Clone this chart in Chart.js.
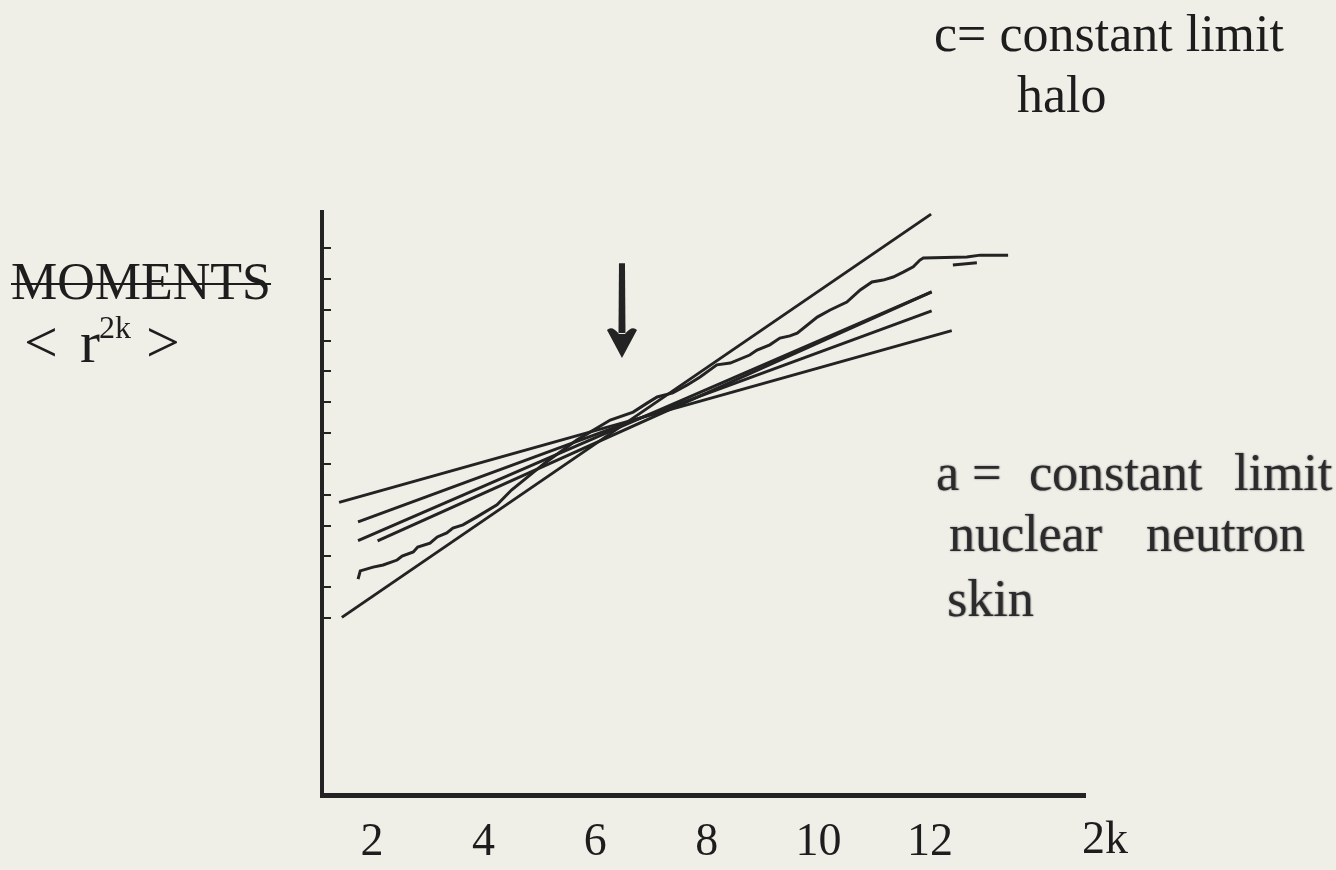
<!DOCTYPE html>
<html>
<head>
<meta charset="utf-8">
<script src="https://cdn.jsdelivr.net/npm/chart.js"></script>
<style>
  html, body { margin: 0; padding: 0; background: #efeee7; }
  #wrap { position: relative; width: 1336px; height: 870px; overflow: hidden; }
  #myChart { position: absolute; left: 0; top: 0; }
  .note {
    position: absolute;
    font-family: "Liberation Serif", "Times New Roman", serif;
    color: #1d1d1d;
    line-height: 1;
    white-space: nowrap;
  }
  .grey { color: #2b2b2b; text-shadow: 0 0 2px #8a8a8a, 1px 0 1px #9a9a9a; }
</style>
</head>
<body>
<div id="wrap">
  <canvas id="myChart" width="1336" height="870"></canvas>

  <div class="note" style="left:11px; top:256px; font-size:52px; text-decoration:line-through; text-decoration-thickness:2px;">MOMENTS</div>
  <div class="note" style="left:24px; top:312px; font-size:60px;">&lt;</div>
  <div class="note" style="left:80px; top:312px; font-size:60px;">r</div>
  <div class="note" style="left:99px; top:311px; font-size:32px;">2k</div>
  <div class="note" style="left:146px; top:312px; font-size:60px;">&gt;</div>

  <div class="note" style="left:934px; top:8px; font-size:52px;">c= constant limit</div>
  <div class="note" style="left:1017px; top:69px; font-size:52px;">halo</div>

  <div class="note grey" style="left:936px; top:447px; font-size:52px;">a =</div>
  <div class="note grey" style="left:1029px; top:447px; font-size:52px;">constant</div>
  <div class="note grey" style="left:1234px; top:447px; font-size:52px;">limit</div>
  <div class="note grey" style="left:949px; top:508px; font-size:52px;">nuclear</div>
  <div class="note grey" style="left:1146px; top:508px; font-size:52px;">neutron</div>
  <div class="note grey" style="left:947px; top:573px; font-size:52px;">skin</div>

  <div class="note" style="left:1082px; top:815px; font-size:46px;">2k</div>
</div>

<script>
console.log("Page running");

// =======================
// DATA
// =======================

// x axis: 2k, y axis: <r^2k> (unlabelled tick marks)
const xTicks = [2, 4, 6, 8, 10, 12];
const yTicks = [1, 2, 3, 4, 5, 6, 7, 8, 9, 10, 11, 12, 13];

// straight-line fits (end points)
const fitAx = [1.41, 12.39];
const fitAy = [4.75, 10.32];
const fitBx = [1.75, 12.03];
const fitBy = [4.12, 10.96];
const fitCx = [1.75, 12.03];
const fitCy = [3.51, 11.58];
const fitDx = [2.10, 12.03];
const fitDy = [3.50, 11.58];
const fitFx = [1.46, 12.02];
const fitFy = [1.02, 14.10];

// jagged curve that levels off (halo)
const haloX = [1.75, 1.79, 2.02, 2.20, 2.45, 2.54, 2.74, 2.82, 3.04, 3.17, 3.34, 3.45,
  3.63, 3.88, 4.24, 4.50, 5.10, 5.67, 6.27, 6.68, 6.93, 7.11, 7.39, 7.65, 7.88, 8.18,
  8.42, 8.77, 8.90, 9.13, 9.31, 9.49, 9.62, 9.98, 10.21, 10.51, 10.75, 10.96, 11.16,
  11.34, 11.52, 11.70, 11.82, 11.88, 12.66, 12.90, 13.40];
const haloY = [2.26, 2.53, 2.65, 2.72, 2.88, 3.01, 3.14, 3.30, 3.43, 3.63, 3.76, 3.92,
  4.02, 4.28, 4.67, 5.15, 6.03, 6.77, 7.42, 7.68, 7.97, 8.17, 8.30, 8.56, 8.82, 9.21,
  9.27, 9.53, 9.69, 9.86, 10.08, 10.15, 10.24, 10.76, 10.99, 11.25, 11.64, 11.90, 11.96,
  12.06, 12.22, 12.39, 12.61, 12.68, 12.71, 12.77, 12.77];

// little stray stroke under the flat end
const tailX = [12.41, 12.84];
const tailY = [12.45, 12.52];

// arrow marking the crossing point
const arrowX = 6.48;
const arrowTop = 12.51;
const arrowBase = 10.34;
const arrowTip = 9.43;


// =======================
// HELPERS
// =======================

const INK = "#232323";

function pts(xs, ys) {
  return xs.map((x, i) => ({ x: x, y: ys[i] }));
}

function series(label, xs, ys) {
  return {
    label: label,
    data: pts(xs, ys),
    borderColor: INK,
    borderWidth: 3,
    pointRadius: 0,
    tension: 0,
    fill: false
  };
}

// small tick marks on the inside of the y axis
const innerTicks = {
  id: "innerTicks",
  afterDraw(chart) {
    const { ctx, scales: { x, y } } = chart;
    ctx.save();
    ctx.strokeStyle = INK;
    ctx.lineWidth = 2;
    yTicks.forEach(v => {
      const py = Math.round(y.getPixelForValue(v));
      ctx.beginPath();
      ctx.moveTo(x.left, py);
      ctx.lineTo(x.left + 9, py);
      ctx.stroke();
    });
    ctx.restore();
  }
};

// the down arrow
const arrow = {
  id: "arrow",
  afterDatasetsDraw(chart) {
    const { ctx, scales: { x, y } } = chart;
    const ax = x.getPixelForValue(arrowX);
    const top = y.getPixelForValue(arrowTop);
    const base = y.getPixelForValue(arrowBase);
    const tip = y.getPixelForValue(arrowTip);
    ctx.save();
    ctx.fillStyle = INK;
    ctx.beginPath();
    ctx.moveTo(ax - 3, top);
    ctx.lineTo(ax + 3, top);
    ctx.lineTo(ax + 3.5, base + 3);
    ctx.lineTo(ax - 3.5, base + 3);
    ctx.closePath();
    ctx.fill();
    ctx.beginPath();
    ctx.moveTo(ax - 15, base);
    ctx.quadraticCurveTo(ax - 10, base - 5, ax - 3, base + 4);
    ctx.lineTo(ax + 3, base + 4);
    ctx.quadraticCurveTo(ax + 10, base - 5, ax + 15, base);
    ctx.lineTo(ax, tip);
    ctx.closePath();
    ctx.fill();
    ctx.restore();
  }
};


// =======================
// CHART
// =======================

const ctx = document.getElementById("myChart");

window.chart = new Chart(ctx, {
  type: "line",
  data: {
    datasets: [
      series("fit a", fitAx, fitAy),
      series("fit b", fitBx, fitBy),
      series("fit c", fitCx, fitCy),
      series("fit d", fitDx, fitDy),
      series("fit f", fitFx, fitFy),
      series("halo", haloX, haloY),
      series("tail", tailX, tailY)
    ]
  },
  options: {
    responsive: false,
    animation: false,
    layout: {
      padding: { left: 322, top: 212, right: 251, bottom: 0 }
    },
    plugins: {
      legend: { display: false },
      tooltip: { enabled: false }
    },
    scales: {
      x: {
        type: "linear",
        min: 1.104,
        max: 14.778,
        afterBuildTicks: s => { s.ticks = xTicks.map(v => ({ value: v })); },
        afterFit: s => { s.height = 75; },
        grid: { drawOnChartArea: false, drawTicks: false },
        border: { display: true, color: INK, width: 5 },
        ticks: {
          color: "#1d1d1d",
          font: { family: "Liberation Serif", size: 46 },
          padding: 20,
          maxRotation: 0,
          autoSkip: false
        }
      },
      y: {
        type: "linear",
        min: -4.741,
        max: 14.169,
        afterBuildTicks: s => { s.ticks = yTicks.map(v => ({ value: v })); },
        afterFit: s => { s.width = 0; },
        grid: { drawOnChartArea: false, drawTicks: false },
        border: { display: true, color: INK, width: 4 },
        ticks: { display: false }
      }
    }
  },
  plugins: [innerTicks, arrow]
});
</script>
</body>
</html>
